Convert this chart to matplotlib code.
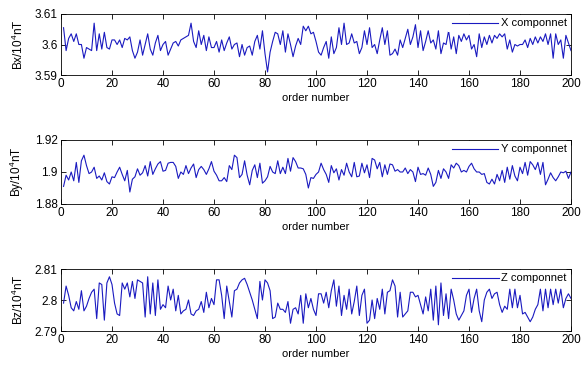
import matplotlib
matplotlib.use("Agg")
import matplotlib.pyplot as plt

# Componentes del campo magnetico (unidades de 10^4 nT), puntos 1..200
order = list(range(1, 201))

bx = [
    3.6055, 3.5980, 3.6020, 3.6035, 3.6010, 3.6035, 3.6000, 3.6000, 3.5955, 3.5990,
    3.5985, 3.5980, 3.6070, 3.5980, 3.6035, 3.5985, 3.6040, 3.5990, 3.5985, 3.6015,
    3.6015, 3.6000, 3.6015, 3.5990, 3.6020, 3.6015, 3.6025, 3.5980, 3.5955, 3.5975,
    3.6015, 3.5965, 3.6000, 3.6035, 3.5985, 3.5965, 3.6005, 3.6030, 3.5980, 3.6000,
    3.6010, 3.5965, 3.5985, 3.6005, 3.6010, 3.5995, 3.6015, 3.6020, 3.6025, 3.6030,
    3.6070, 3.6010, 3.5990, 3.6045, 3.6000, 3.6030, 3.5980, 3.6025, 3.5990, 3.5990,
    3.6010, 3.5975, 3.6015, 3.5980, 3.6005, 3.6025, 3.5985, 3.6000, 3.6005, 3.5960,
    3.6000, 3.5965, 3.5990, 3.5995, 3.5965, 3.6010, 3.6030, 3.5985, 3.6045, 3.5970,
    3.5910, 3.5975, 3.6010, 3.6040, 3.6035, 3.6000, 3.6045, 3.5975, 3.6035, 3.6000,
    3.5960, 3.5995, 3.6020, 3.6000, 3.6060, 3.6045, 3.6060, 3.6035, 3.6040, 3.6010,
    3.5975, 3.5965, 3.5990, 3.6010, 3.5955, 3.6025, 3.5970, 3.5990, 3.6055, 3.6000,
    3.6070, 3.6000, 3.6005, 3.6035, 3.6005, 3.6010, 3.5970, 3.5990, 3.6045, 3.6000,
    3.6055, 3.5990, 3.6000, 3.5970, 3.6015, 3.6055, 3.6000, 3.6045, 3.5965, 3.5970,
    3.5985, 3.5965, 3.6015, 3.5990, 3.6020, 3.6050, 3.6000, 3.6025, 3.6065, 3.5990,
    3.6045, 3.5980, 3.6010, 3.6045, 3.6005, 3.6015, 3.5985, 3.6045, 3.5970, 3.6005,
    3.6000, 3.6045, 3.5985, 3.6025, 3.5970, 3.6030, 3.6010, 3.6035, 3.6015, 3.6030,
    3.5985, 3.6000, 3.5960, 3.6035, 3.5990, 3.6025, 3.6000, 3.6030, 3.6005, 3.6030,
    3.6020, 3.6035, 3.6025, 3.6035, 3.5985, 3.6015, 3.5975, 3.6000, 3.5995, 3.6000,
    3.6000, 3.6015, 3.5990, 3.6020, 3.6000, 3.6025, 3.6005, 3.6025, 3.6010, 3.6035,
    3.6000, 3.6035, 3.5955, 3.6035, 3.6000, 3.6015, 3.5955, 3.6030, 3.6005, 3.5980,
]

by = [
    1.8910, 1.8980, 1.8950, 1.9000, 1.8945, 1.9060, 1.8935, 1.9070, 1.9105, 1.9040,
    1.8990, 1.9000, 1.9030, 1.8960, 1.8975, 1.8950, 1.8995, 1.8940, 1.8925, 1.8970,
    1.8965, 1.9000, 1.9030, 1.8985, 1.8945, 1.9010, 1.8875, 1.8955, 1.8970, 1.9020,
    1.8980, 1.8995, 1.9040, 1.8975, 1.9065, 1.8985, 1.9020, 1.9050, 1.9065, 1.9005,
    1.9010, 1.9055, 1.9060, 1.9060, 1.9035, 1.8960, 1.9000, 1.8985, 1.9040, 1.8990,
    1.9025, 1.9050, 1.8965, 1.9015, 1.9035, 1.9015, 1.8985, 1.9020, 1.9065, 1.9005,
    1.8980, 1.8945, 1.8945, 1.8965, 1.8940, 1.9040, 1.9015, 1.9105, 1.9090, 1.8965,
    1.8985, 1.9070, 1.8980, 1.8920, 1.9010, 1.9045, 1.8965, 1.9055, 1.8930, 1.8945,
    1.8970, 1.9035, 1.9000, 1.8990, 1.9070, 1.8990, 1.9030, 1.8990, 1.9085, 1.9005,
    1.9090, 1.9065, 1.9025, 1.9025, 1.9020, 1.8985, 1.8900, 1.8965, 1.8960, 1.8985,
    1.9000, 1.9055, 1.9015, 1.8985, 1.8935, 1.9040, 1.8995, 1.9020, 1.8950, 1.9015,
    1.8980, 1.9055, 1.9000, 1.8970, 1.9060, 1.8970, 1.8975, 1.9055, 1.8995, 1.9045,
    1.8965, 1.9085, 1.9075, 1.9020, 1.9060, 1.8970, 1.9045, 1.8985, 1.9050, 1.9045,
    1.9005, 1.9015, 1.9000, 1.9000, 1.9025, 1.8990, 1.9015, 1.9000, 1.8940, 1.9030,
    1.8985, 1.8990, 1.8980, 1.9025, 1.8985, 1.8910, 1.8935, 1.9010, 1.8960, 1.9020,
    1.9000, 1.8960, 1.9045, 1.9025, 1.9055, 1.9040, 1.9000, 1.9010, 1.9000, 1.9035,
    1.9055, 1.9020, 1.9000, 1.9000, 1.8985, 1.8990, 1.8935, 1.8925, 1.8955, 1.8925,
    1.8985, 1.8945, 1.9010, 1.8935, 1.9030, 1.8955, 1.9040, 1.8975, 1.8945, 1.9030,
    1.8990, 1.9060, 1.8980, 1.9065, 1.9045, 1.9015, 1.9060, 1.8985, 1.9060, 1.8920,
    1.8955, 1.8995, 1.8965, 1.8945, 1.8970, 1.9000, 1.8995, 1.9005, 1.8960, 1.9000,
]

bz = [
    2.7990, 2.8045, 2.8015, 2.7975, 2.7965, 2.7995, 2.7970, 2.8030, 2.7965, 2.7980,
    2.8005, 2.8025, 2.8035, 2.7940, 2.8055, 2.8050, 2.7935, 2.8055, 2.8075, 2.8050,
    2.7990, 2.7955, 2.7950, 2.8055, 2.8035, 2.8055, 2.8010, 2.8060, 2.8005, 2.8065,
    2.8060, 2.8055, 2.7945, 2.8075, 2.7955, 2.8055, 2.7950, 2.8065, 2.7970, 2.7985,
    2.7975, 2.8045, 2.8000, 2.8035, 2.7965, 2.8015, 2.7955, 2.7965, 2.7970, 2.8000,
    2.7955, 2.7950, 2.7965, 2.7970, 2.7995, 2.7960, 2.8025, 2.7975, 2.8005, 2.7985,
    2.8065, 2.8065, 2.8015, 2.7940, 2.8045, 2.7995, 2.7945, 2.8030, 2.8035, 2.8055,
    2.8065, 2.8070, 2.8050, 2.8025, 2.8000, 2.7970, 2.7940, 2.8060, 2.8000, 2.8065,
    2.8055, 2.8030, 2.7940, 2.7945, 2.7990, 2.7970, 2.7970, 2.7960, 2.7995, 2.7925,
    2.7970, 2.7975, 2.7955, 2.8015, 2.7925, 2.8020, 2.7975, 2.8005, 2.7970, 2.7950,
    2.8020, 2.8020, 2.7990, 2.8025, 2.7975, 2.8030, 2.8065, 2.7980, 2.8045, 2.7950,
    2.8015, 2.7970, 2.8035, 2.7955, 2.7995, 2.8045, 2.7950, 2.8015, 2.8035, 2.7925,
    2.7935, 2.8000, 2.7940, 2.8005, 2.7970, 2.8035, 2.7955, 2.8025, 2.8030, 2.8065,
    2.8045, 2.7945, 2.8025, 2.7945, 2.7955, 2.7965, 2.8025, 2.8025, 2.8010, 2.8015,
    2.7985, 2.7955, 2.8010, 2.7965, 2.8035, 2.7935, 2.8045, 2.7920, 2.8055, 2.7950,
    2.8020, 2.7940, 2.8035, 2.8000, 2.7955, 2.7935, 2.7950, 2.7965, 2.8015, 2.8035,
    2.7960, 2.8005, 2.8035, 2.7965, 2.7930, 2.8000, 2.8025, 2.8035, 2.8005, 2.8020,
    2.8025, 2.7985, 2.7960, 2.7980, 2.7970, 2.8035, 2.7975, 2.8035, 2.7975, 2.8015,
    2.7955, 2.7960, 2.7945, 2.7930, 2.7945, 2.7970, 2.7985, 2.8035, 2.7965, 2.8035,
    2.7975, 2.8035, 2.7985, 2.8035, 2.7990, 2.8035, 2.7975, 2.8005, 2.8020, 2.8005,
]

panels = [
    (bx, "Bx", "X componnet", (3.59, 3.61), ["3.59", "3.6", "3.61"]),
    (by, "By", "Y componnet", (1.88, 1.92), ["1.88", "1.9", "1.92"]),
    (bz, "Bz", "Z componnet", (2.79, 2.81), ["2.79", "2.8", "2.81"]),
]
xticks = list(range(0, 201, 20))

plt.rcParams["font.family"] = ["Liberation Sans Narrow", "Liberation Sans", "DejaVu Sans"]
plt.rcParams["mathtext.default"] = "regular"
plt.rcParams["font.size"] = 8

W, H = 586, 365
fig = plt.figure(figsize=(W / 100, H / 100), dpi=100)

# (arriba, abajo) de cada eje en pixeles
boxes = [(14, 75), (140, 204), (269, 331)]
left, right = 61, 571

for (vals, name, lab, ylim, ylabs), (top, bot) in zip(panels, boxes):
    ax = fig.add_axes([left / W, 1 - bot / H, (right - left) / W, (bot - top) / H])
    ax.plot(order, vals, color="#1a1ac0", lw=0.8, label=lab)
    ax.set_xlim(0, 200)
    ax.set_ylim(*ylim)
    ax.set_xticks(xticks)
    ax.set_yticks([ylim[0], (ylim[0] + ylim[1]) / 2, ylim[1]])
    ax.set_yticklabels(ylabs)
    ax.tick_params(direction="in", top=True, right=True, length=3.5, width=0.6,
                   labelsize=8.5, pad=2.5)
    for s in ax.spines.values():
        s.set_linewidth(0.6)
    ax.set_xlabel("order number", fontsize=8, labelpad=2)
    ax.set_ylabel(name + "/10$^4$nT", fontsize=8.5, labelpad=6)
    leg = ax.legend(loc="upper right", fontsize=8, handlelength=4.2,
                    frameon=True, fancybox=False, framealpha=1,
                    borderpad=0.3, borderaxespad=0.1, handletextpad=0.2)
    leg.get_frame().set_edgecolor("white")
    leg.get_frame().set_linewidth(0)

fig.savefig("out.png", dpi=100)
